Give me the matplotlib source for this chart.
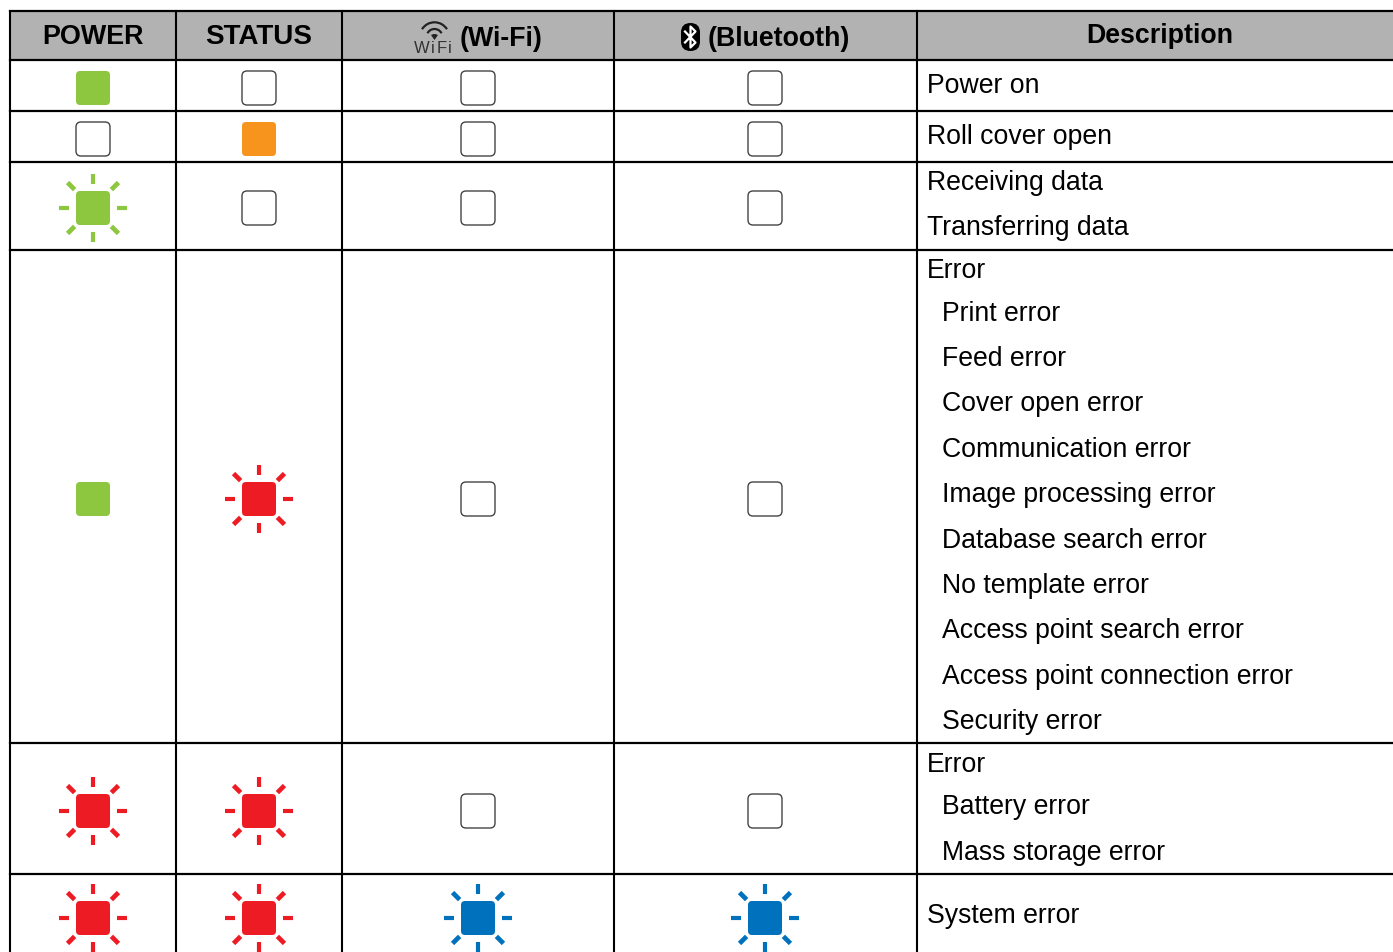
import numpy as np
import matplotlib
matplotlib.use('Agg')
import matplotlib.pyplot as plt
from matplotlib.patches import FancyBboxPatch, Rectangle, Arc, Wedge

plt.rcParams['font.family'] = ['Liberation Sans', 'DejaVu Sans']

headers = ['POWER', 'STATUS', '(Wi-Fi)', '(Bluetooth)', 'Description']
header_x = [93, 259, 501, 779, 1160]
header_y = [44, 44, 46, 46, 43]
header_size = [19.4, 20.1, 19.3, 19.3, 19.3]

# off / on / blink, one list per column
power_state = ['green', 'off', 'green_blink', 'green', 'red_blink', 'red_blink']
status_state = ['off', 'orange', 'off', 'red_blink', 'red_blink', 'red_blink']
wifi_state = ['off', 'off', 'off', 'off', 'off', 'blue_blink']
bluetooth_state = ['off', 'off', 'off', 'off', 'off', 'blue_blink']

descriptions = ['Power on', 'Roll cover open', 'Receiving data', 'Transferring data',
                'Error', 'Print error', 'Feed error', 'Cover open error',
                'Communication error', 'Image processing error', 'Database search error',
                'No template error', 'Access point search error',
                'Access point connection error', 'Security error',
                'Error', 'Battery error', 'Mass storage error', 'System error']
desc_y = [93, 144, 190, 235, 278, 321, 366, 411, 457, 502, 548, 593, 638, 684, 729,
          772, 814, 860, 923]
desc_indent = [0, 0, 0, 0, 0, 1, 1, 1, 1, 1, 1, 1, 1, 1, 1, 0, 1, 1, 0]

col_lines = [10, 176, 342, 614, 917]
row_lines = [11, 60, 111, 162, 250, 743, 874]
col_centers = [93, 259, 478, 765]
row_centers = [88, 139, 208, 499, 811, 918]

colors = {'green': '#8dc63f', 'orange': '#f7941d', 'red': '#ed1c24', 'blue': '#0071bc'}

fig = plt.figure(figsize=(13.93, 9.52), dpi=100)
ax = fig.add_axes([0, 0, 1, 1])
ax.set_xlim(0, 1393)
ax.set_ylim(952, 0)
ax.axis('off')


def draw_led(cx, cy, state):
    if state == 'off':
        ax.add_patch(FancyBboxPatch((cx - 13, cy - 13), 26, 26, boxstyle='round,pad=4,rounding_size=5',
                                    fc='white', ec='#444444', lw=1.0, zorder=3))
        return
    name = state.split('_')[0]
    ax.add_patch(FancyBboxPatch((cx - 13, cy - 13), 26, 26, boxstyle='round,pad=4,rounding_size=4',
                                fc=colors[name], ec='none', zorder=3))
    if state.endswith('blink'):
        for a in range(0, 360, 45):
            ca, sa = np.cos(np.radians(a)), np.sin(np.radians(a))
            if a % 90 == 0:
                r0, r1, w = 24, 34, 3.0
            else:
                r0, r1, w = 26, 36, 3.4
            ax.plot([cx + r0 * ca, cx + r1 * ca], [cy + r0 * sa, cy + r1 * sa],
                    color=colors[name], lw=w, solid_capstyle='butt', zorder=3)


ax.add_patch(Rectangle((10, 11), 1383, 49, fc='#b2b2b2', ec='none', zorder=1))

for x in col_lines:
    ax.plot([x, x], [11, 952], color='black', lw=1.5, zorder=2)
for y in row_lines:
    ax.plot([10, 1393], [y, y], color='black', lw=1.6, zorder=2)

for col, states in enumerate([power_state, status_state, wifi_state, bluetooth_state]):
    for row, state in enumerate(states):
        draw_led(col_centers[col], row_centers[row], state)

for label, x, y, size in zip(headers, header_x, header_y, header_size):
    ax.text(x, y, label, fontsize=size, fontweight='bold', ha='center', va='baseline', color='black')

for label, y, ind in zip(descriptions, desc_y, desc_indent):
    ax.text(942 if ind else 927, y + 0.4, label, fontsize=19.15, ha='left', va='baseline', color='black')

# wifi icon
ax.add_patch(Arc((434.5, 37), 29.4, 29.4, theta1=212, theta2=328, color='#222222', lw=1.6, zorder=4))
ax.add_patch(Arc((434.5, 37), 16, 16, theta1=208, theta2=332, color='#222222', lw=1.6, zorder=4))
ax.add_patch(Wedge((434.5, 40), 6, 235, 305, fc='#222222', ec='none', zorder=4))
for letter, x in zip('WiFi', [414, 431, 436.5, 448]):
    ax.text(x, 53, letter, fontsize=12, ha='left', va='baseline', color='#333333')

# bluetooth icon
ax.add_patch(FancyBboxPatch((690.5, 32.5), 0, 9, boxstyle='round,pad=9.5,rounding_size=9.5',
                            fc='black', ec='none', zorder=4))
ax.plot([685, 695.5, 690.5, 690.5, 695.5, 685], [31.5, 42.5, 47.5, 26.5, 31.5, 42.5],
        color='white', lw=1.6, zorder=5)

fig.savefig('out.png', dpi=100)
